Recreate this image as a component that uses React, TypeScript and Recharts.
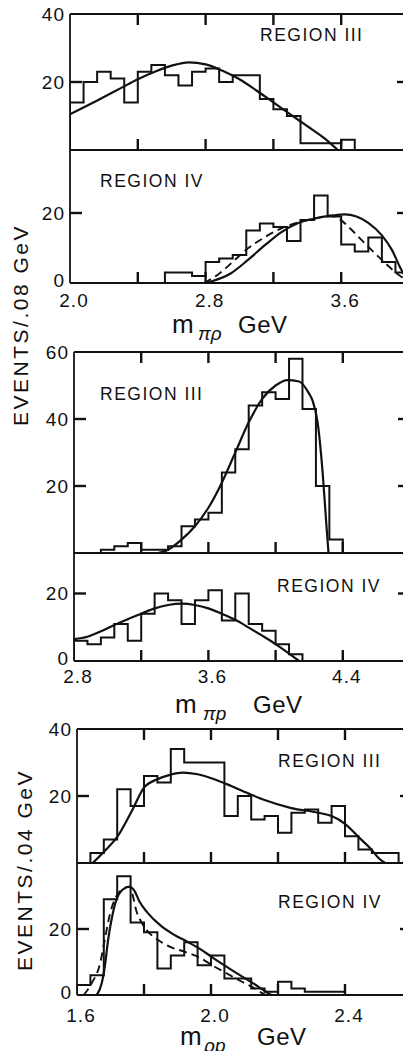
import { ComposedChart, Line, XAxis, YAxis, ReferenceLine } from "recharts";

type Pt = [number, number];

const FONT = "'Liberation Sans', Arial, Helvetica, sans-serif";
const INK = "#111";
const PAGE_W = 411;
const PAGE_H = 1059;

// ---- m(pi rho), .08 GeV bins ----
const piRhoIIIStart = 2.0;
const piRhoIIIHist = [14, 20, 23, 21, 14, 23, 25, 22, 19, 23, 24, 20, 22, 22, 15, 12, 10, 2, 2, 2, 3];
const piRhoIIIFit: Pt[] = [
  [2.0, 10.5], [2.1, 13], [2.2, 15.6], [2.3, 18.2], [2.4, 20.8], [2.5, 23], [2.6, 24.8],
  [2.7, 25.8], [2.8, 25.2], [2.9, 23.3], [3.0, 20.8], [3.1, 17.5], [3.2, 14], [3.3, 10.5],
  [3.4, 7], [3.5, 3.5], [3.58, 0],
];

const piRhoIVStart = 2.56;
const piRhoIVHist = [3, 3, 2, 6, 7, 8, 15, 17, 16, 12, 18, 25, 19, 11, 9, 13, 6, 3];
const piRhoIVFit: Pt[] = [
  [2.8, 0], [2.95, 2.8], [3.05, 6.6], [3.15, 10.8], [3.25, 14.6], [3.35, 17.2], [3.45, 18.5],
  [3.55, 19.3], [3.62, 19.6], [3.69, 19], [3.76, 17.2], [3.84, 13.6], [3.9, 9.4], [3.95, 4.2],
  [3.99, 1],
];
const piRhoIVFitDash: Pt[] = [
  [2.79, 0], [2.87, 2.3], [2.95, 5.6], [3.05, 9.9], [3.15, 13.1], [3.25, 15.7], [3.35, 17.4],
  [3.45, 18.5], [3.53, 19.2], [3.59, 18.3], [3.65, 15.7], [3.74, 11.3], [3.84, 6.6],
  [3.94, 2.3], [3.99, 0.7],
];

// ---- m(pi p), .08 GeV bins ----
const piPIIIStart = 2.96;
const piPIIIHist = [1, 2, 3, 1, 1, 2, 8, 10, 12, 24, 31, 44, 48, 46, 58, 43, 20, 4];
const piPIIIFit: Pt[] = [
  [3.3, 0], [3.36, 1], [3.44, 4], [3.52, 8], [3.6, 13.5], [3.68, 21], [3.76, 30], [3.84, 39],
  [3.92, 46], [4.0, 50], [4.07, 51.6], [4.14, 51.2], [4.2, 47.5], [4.22, 45.5], [4.25, 39],
  [4.28, 24], [4.3, 10], [4.315, 0],
];

const piPIVStart = 2.8;
const piPIVHist = [6, 5, 7, 11, 6, 14, 20, 18, 11, 18, 21, 12, 20, 11, 9, 5, 2];
const piPIVFit: Pt[] = [
  [2.8, 6.5], [2.88, 7.2], [2.96, 8.8], [3.04, 10.7], [3.12, 12.4], [3.2, 14], [3.28, 15.6],
  [3.36, 16.6], [3.44, 17], [3.52, 16.6], [3.6, 15.6], [3.68, 14], [3.76, 12.2], [3.84, 9.9],
  [3.92, 7.5], [4.0, 5], [4.08, 2.2], [4.14, 0],
];

// ---- m(p p), .04 GeV bins ----
const ppIIIStart = 1.64;
const ppIIIHist = [3, 7, 22, 17, 26, 24, 34, 30, 30, 30, 14, 20, 13, 14, 9, 15, 16, 12, 17, 8, 4, 3, 3];
const ppIIIFit: Pt[] = [
  [1.647, 0], [1.687, 4], [1.72, 7.8], [1.766, 16], [1.8, 22.5], [1.84, 25], [1.88, 26.4],
  [1.915, 27], [1.96, 26.5], [2.01, 25], [2.06, 23], [2.12, 20.4], [2.16, 18.8], [2.24, 16.4],
  [2.32, 15], [2.36, 14], [2.4, 11.7], [2.44, 7.8], [2.48, 3.9], [2.5, 1.5], [2.52, 0],
];

const ppIVStart = 1.6;
const ppIVHist = [3, 6, 29, 36, 22, 19, 8, 12, 16, 9, 12, 5, 5, 2, 1, 4, 2, 1, 1, 1];
const ppIVFit: Pt[] = [
  [1.659, 0], [1.674, 3.6], [1.683, 8.6], [1.693, 16.8], [1.703, 22.8], [1.718, 29],
  [1.732, 31.5], [1.757, 32.8], [1.772, 31.5], [1.786, 28.4], [1.811, 24.9], [1.85, 21],
  [1.889, 18.3], [1.928, 16.2], [1.968, 13.9], [2.007, 11.2], [2.046, 8.6], [2.085, 6.1],
  [2.125, 3.6], [2.164, 1], [2.18, 0],
];
const ppIVFitDash: Pt[] = [
  [1.62, 0], [1.644, 3.6], [1.669, 9.6], [1.683, 16.8], [1.698, 24.4], [1.713, 29],
  [1.732, 31.8], [1.757, 32.8], [1.767, 30], [1.776, 25.9], [1.791, 22.3], [1.811, 19.3],
  [1.84, 16.8], [1.88, 14.5], [1.919, 13.2], [1.968, 11.2], [2.007, 8.8], [2.046, 6.6],
  [2.085, 4.4], [2.125, 2.3], [2.154, 0.5], [2.164, 0],
];

// ---- axis ticks ----
const piRhoTicks = [2.0, 2.4, 2.8, 3.2, 3.6, 4.0];
const piRhoLabels = [2.0, 2.8, 3.6];
const piPTicks = [2.8, 3.2, 3.6, 4.0, 4.4, 4.8];
const piPLabels = [2.8, 3.6, 4.4];
const ppTicks = [1.6, 1.8, 2.0, 2.2, 2.4, 2.6];
const ppLabels = [1.6, 2.0, 2.4];

function histSteps(start: number, width: number, vals: number[]) {
  const out = [{ x: start, y: 0 }];
  vals.forEach((v, i) => out.push({ x: +(start + i * width).toFixed(3), y: v }));
  const end = +(start + vals.length * width).toFixed(3);
  out.push({ x: end, y: vals[vals.length - 1] });
  out.push({ x: end, y: 0 });
  return out;
}

const toXY = (pts: Pt[]) => pts.map(([x, y]) => ({ x, y }));
const has = (list: number[], v: number) => list.some((l) => Math.abs(l - v) < 1e-6);

interface PanelProps {
  left: number;
  right: number;
  top: number;
  bottom: number;
  xDomain: [number, number];
  xTicks: number[];
  xLabels?: number[];
  labelDy?: number;
  topMarks?: boolean;
  yMax: number;
  yMarks: number[];
  yLabels: number[];
  hist: { x: number; y: number }[];
  fit: Pt[];
  fitDash?: Pt[];
}

// axes must be at least 1px thick or recharts skips drawing them
const AX = 1;
const XT = 11; // tick length in px, x axes (drawn inward)
const YT = 12; // tick length in px, y axes

function Panel(p: PanelProps) {
  const mt = 24;
  const mb = 36;
  const plotH = p.bottom - p.top;
  const plotW = p.right - p.left;
  const [x0, x1] = p.xDomain;
  const axisLine = { stroke: INK, strokeWidth: 1.8 };
  const labels = p.xLabels ?? [];
  // inward tick marks as short reference segments (length converted to data units)
  const dy = (XT * p.yMax) / plotH;
  const dx = (YT * (x1 - x0)) / plotW;
  const innerX = p.xTicks.filter((v) => v > x0 + 1e-6 && v < x1 - 1e-6);
  const tickStyle = { stroke: INK, strokeWidth: 2.4, ifOverflow: "visible" as const };

  return (
    <div style={{ position: "absolute", left: 0, top: p.top - mt }}>
      <ComposedChart
        width={PAGE_W}
        height={mt + plotH + mb}
        margin={{ top: mt - AX, bottom: mb - AX, left: p.left - AX, right: PAGE_W - p.right - AX }}
      >
        <XAxis
          xAxisId="b" type="number" dataKey="x" domain={p.xDomain} ticks={p.xTicks}
          interval={0} allowDataOverflow height={AX} tickLine={false} tickSize={0} tickMargin={0}
          axisLine={axisLine}
          tick={(t: any) => {
            const v = t.payload.value;
            return has(labels, v) ? (
              <text x={t.x + 4} y={t.y + (p.labelDy ?? 24)} textAnchor="middle"
                fontSize={19} fontFamily={FONT} fill={INK} letterSpacing={1}>
                {v.toFixed(1)}
              </text>
            ) : <g />;
          }}
        />
        <XAxis
          xAxisId="t" type="number" orientation="top" domain={p.xDomain} ticks={p.xTicks}
          interval={0} allowDataOverflow height={AX} tickLine={false} tickSize={0}
          axisLine={axisLine} tick={() => <g />}
        />
        <YAxis
          yAxisId="l" type="number" domain={[0, p.yMax]} ticks={[0, ...p.yMarks, p.yMax]}
          interval={0} allowDataOverflow width={AX} tickLine={false} tickSize={0} tickMargin={0}
          axisLine={axisLine}
          tick={(t: any) => {
            const v = t.payload.value;
            return has(p.yLabels, v) ? (
              <text x={t.x - 5} y={t.y - (v === 0 ? 3 : 0)} dy="0.36em" textAnchor="end"
                fontSize={19} fontFamily={FONT} fill={INK} letterSpacing={1}>
                {v}
              </text>
            ) : <g />;
          }}
        />
        <YAxis
          yAxisId="r" type="number" orientation="right" domain={[0, p.yMax]} ticks={p.yMarks}
          interval={0} allowDataOverflow width={AX} tickLine={false} tickSize={0}
          axisLine={axisLine} tick={() => <g />}
        />

        {innerX.map((v) => (
          <ReferenceLine key={`b${v}`} xAxisId="b" yAxisId="l" {...tickStyle}
            segment={[{ x: v, y: 0 }, { x: v, y: dy }]} />
        ))}
        {p.topMarks && innerX.map((v) => (
          <ReferenceLine key={`t${v}`} xAxisId="b" yAxisId="l" {...tickStyle}
            segment={[{ x: v, y: p.yMax }, { x: v, y: p.yMax - dy }]} />
        ))}
        {p.yMarks.map((v) => (
          <ReferenceLine key={`l${v}`} xAxisId="b" yAxisId="l" {...tickStyle}
            segment={[{ x: x0, y: v }, { x: x0 + dx, y: v }]} />
        ))}
        {p.yMarks.map((v) => (
          <ReferenceLine key={`r${v}`} xAxisId="b" yAxisId="l" {...tickStyle}
            segment={[{ x: x1, y: v }, { x: x1 - dx, y: v }]} />
        ))}

        <Line
          xAxisId="b" yAxisId="l" data={p.hist} dataKey="y" type="stepAfter"
          stroke={INK} strokeWidth={2} dot={false} activeDot={false} isAnimationActive={false}
        />
        {p.fitDash && (
          <Line
            xAxisId="b" yAxisId="l" data={toXY(p.fitDash)} dataKey="y" type="monotone"
            stroke={INK} strokeWidth={1.9} strokeDasharray="8 5" dot={false} activeDot={false}
            isAnimationActive={false}
          />
        )}
        <Line
          xAxisId="b" yAxisId="l" data={toXY(p.fit)} dataKey="y" type="monotone"
          stroke={INK} strokeWidth={2.2} dot={false} activeDot={false} isAnimationActive={false}
        />
      </ComposedChart>
    </div>
  );
}

const textStyle = { fontFamily: FONT, fill: INK } as const;

function Region({ x, y, label }: { x: number; y: number; label: string }) {
  return (
    <text x={x} y={y} fontSize={17.5} letterSpacing={1.5} {...textStyle}>
      {label}
    </text>
  );
}

function MassTitle({ x, y, sub, subX, gevX }: { x: number; y: number; sub: string; subX: number; gevX: number }) {
  return (
    <g>
      <text x={x} y={y} fontSize={26} {...textStyle}>m</text>
      <text x={subX} y={y + 7} fontSize={19} fontStyle="italic" {...textStyle}>{sub}</text>
      <text x={gevX} y={y} fontSize={24} letterSpacing={0.5} {...textStyle}>GeV</text>
    </g>
  );
}

export default function App() {
  return (
    <div style={{ position: "relative", width: PAGE_W, height: PAGE_H, margin: -8, overflow: "hidden", background: "#fff" }}>
      <Panel
        left={70} right={409} top={14} bottom={150} xDomain={[2.0, 4.0]} xTicks={piRhoTicks}
        topMarks yMax={40} yMarks={[20]} yLabels={[20, 40]}
        hist={histSteps(piRhoIIIStart, 0.08, piRhoIIIHist)} fit={piRhoIIIFit}
      />
      <Panel
        left={70} right={409} top={150} bottom={283} xDomain={[2.0, 4.0]} xTicks={piRhoTicks}
        xLabels={piRhoLabels} labelDy={24} yMax={38} yMarks={[20]} yLabels={[0, 20]}
        hist={histSteps(piRhoIVStart, 0.08, piRhoIVHist)} fit={piRhoIVFit} fitDash={piRhoIVFitDash}
      />
      <Panel
        left={74} right={410} top={352} bottom={553} xDomain={[2.8, 4.8]} xTicks={piPTicks}
        topMarks yMax={60} yMarks={[20, 40]} yLabels={[20, 40, 60]}
        hist={histSteps(piPIIIStart, 0.08, piPIIIHist)} fit={piPIIIFit}
      />
      <Panel
        left={74} right={410} top={553} bottom={661} xDomain={[2.8, 4.8]} xTicks={piPTicks}
        xLabels={piPLabels} labelDy={22} yMax={32} yMarks={[20]} yLabels={[0, 20]}
        hist={histSteps(piPIVStart, 0.08, piPIVHist)} fit={piPIVFit}
      />
      <Panel
        left={77} right={412} top={729} bottom={863} xDomain={[1.6, 2.6]} xTicks={ppTicks}
        topMarks yMax={40} yMarks={[20]} yLabels={[20, 40]}
        hist={histSteps(ppIIIStart, 0.04, ppIIIHist)} fit={ppIIIFit}
      />
      <Panel
        left={77} right={412} top={863} bottom={995} xDomain={[1.6, 2.6]} xTicks={ppTicks}
        xLabels={ppLabels} labelDy={27} yMax={40} yMarks={[20]} yLabels={[0, 20]}
        hist={histSteps(ppIVStart, 0.04, ppIVHist)} fit={ppIVFit} fitDash={ppIVFitDash}
      />

      <svg width={PAGE_W} height={PAGE_H} style={{ position: "absolute", left: 0, top: 0, pointerEvents: "none" }}>
        <Region x={260} y={41} label="REGION III" />
        <Region x={100} y={187} label="REGION IV" />
        <Region x={100} y={400} label="REGION III" />
        <Region x={277} y={592} label="REGION IV" />
        <Region x={278} y={767} label="REGION III" />
        <Region x={278} y={908} label="REGION IV" />

        <MassTitle x={172} y={333} sub="πρ" subX={198} gevX={238} />
        <MassTitle x={175} y={713} sub="πp" subX={203} gevX={253} />
        <MassTitle x={180} y={1045} sub="ρp" subX={204} gevX={257} />

        <text transform="translate(20 325) rotate(-90)" textAnchor="middle" dominantBaseline="central"
          fontSize={21} letterSpacing={2.5} {...textStyle}>
          EVENTS/.08 GeV
        </text>
        <text transform="translate(24 870) rotate(-90)" textAnchor="middle" dominantBaseline="central"
          fontSize={21} letterSpacing={2.5} {...textStyle}>
          EVENTS/.04 GeV
        </text>
      </svg>
    </div>
  );
}
